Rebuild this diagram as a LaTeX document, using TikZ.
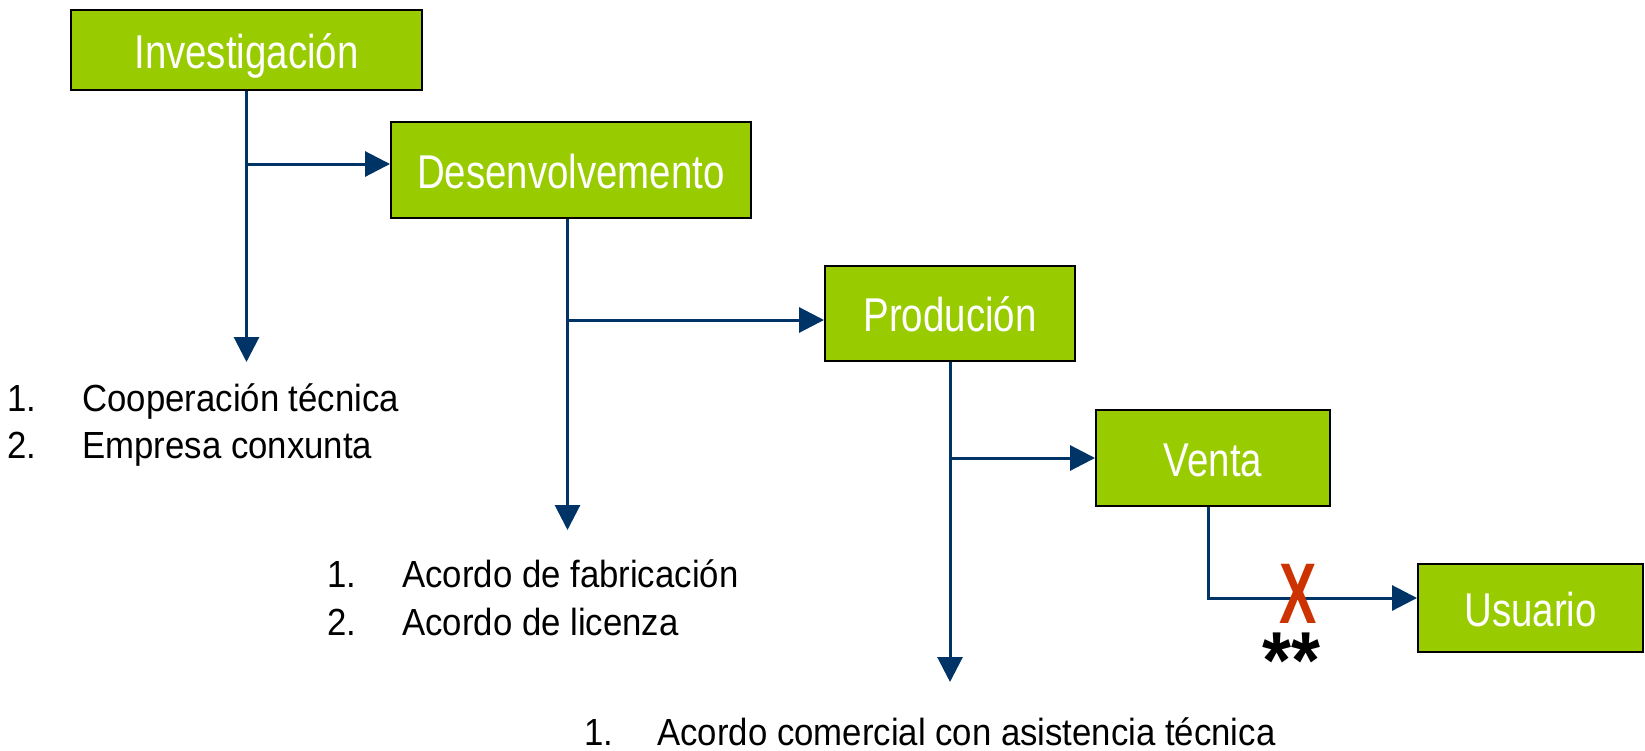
\documentclass[tikz,border=0pt]{standalone}
\usepackage{fontspec}
\setmainfont{Liberation Sans}[FakeStretch=0.92]
\newfontfamily\boxfont{Liberation Sans}[FakeStretch=0.81]
\newfontfamily\crossfont{Liberation Sans}[FakeStretch=0.65]
\usetikzlibrary{arrows.meta}
\definecolor{boxgreen}{RGB}{153,204,0}
\definecolor{linkblue}{RGB}{0,51,102}
\definecolor{crossred}{RGB}{204,51,0}

\begin{document}
\begin{tikzpicture}[x=0.02cm, y=-0.02cm,
  stage/.style={draw=black, line width=0.04cm, fill=boxgreen, text=white, inner sep=0pt,
    font=\boxfont\fontsize{27}{30}\selectfont, text height=0.93cm, text depth=0.19cm},
  link/.style={linkblue, line width=0.06cm, -{Triangle[length=0.5cm, width=0.5cm]}},
  item/.style={anchor=base west, inner sep=0pt, font=\fontsize{21.5}{26}\selectfont},
  cross/.style={anchor=base, inner sep=0pt, text=crossred, font=\crossfont\bfseries\fontsize{49}{50}\selectfont},
  stars/.style={anchor=base, inner sep=0pt, font=\bfseries\fontsize{46}{50}\selectfont}]

\useasboundingbox (0,0) rectangle (1645,750);

\node  [stage, minimum width=7.02cm, minimum height=1.6cm]  (inv)  at  (246.5, 50)   {Investigación};
\node  [stage, minimum width=7.2cm,  minimum height=1.92cm] (des)  at  (571, 170)    {Desenvolvemento};
\node  [stage, minimum width=5cm,    minimum height=1.9cm]  (pro)  at  (950, 313.5)  {Produción};
\node  [stage, minimum width=4.68cm, minimum height=1.92cm] (ven)  at  (1213, 458)   {Venta};
\node  [stage, minimum width=4.5cm,  minimum height=1.76cm] (usu)  at  (1530.5, 608) {Usuario};

\coordinate (desOut) at ([xshift=-0.07cm]des.south);
\coordinate (venOut) at ([xshift=-0.1cm]ven.south);
\coordinate (invEnd) at (inv.south |- 0,362);
\coordinate (desEnd) at (desOut |- 0,530);
\coordinate (proEnd) at (pro.south |- 0,682);
\coordinate (desIn)  at ([yshift=0.12cm]des.west);
\coordinate (proIn)  at ([yshift=-0.13cm]pro.west);
\coordinate (usuIn)  at ([yshift=0.2cm]usu.west);

\draw   [link]   (inv.south) -- (invEnd);
\draw   [link]   (inv.south |- desIn) -- (desIn);
\draw   [link]   (desOut) -- (desEnd);
\draw   [link]   (desOut |- proIn) -- (proIn);
\draw   [link]   (pro.south) -- (proEnd);
\draw   [link]   (pro.south |- ven.west) -- (ven.west);
\draw   [link]   (venOut) |- (usuIn);

% Blocked link
\node  [cross]  (nogo)  at  (1298, 623)  {X};
\node  [stars]  (note)  at  (1291, 688)  {**};

% Lists
\node  [item]  (numA1)  at  (7, 411)   {1.};
\node  [item]  (coop)   at  (82, 411)  {Cooperación técnica};
\node  [item]  (numA2)  at  (7, 458)   {2.};
\node  [item]  (conx)   at  (82, 458)  {Empresa conxunta};

\node  [item]  (numB1)  at  (327, 587)  {1.};
\node  [item]  (fabr)   at  (402, 587)  {Acordo de fabricación};
\node  [item]  (numB2)  at  (327, 635)  {2.};
\node  [item]  (lice)   at  (402, 635)  {Acordo de licenza};

\node  [item]  (numC1)  at  (584, 745)  {1.};
\node  [item]  (come)   at  (657, 745)  {Acordo comercial con asistencia técnica};

\end{tikzpicture}
\end{document}
